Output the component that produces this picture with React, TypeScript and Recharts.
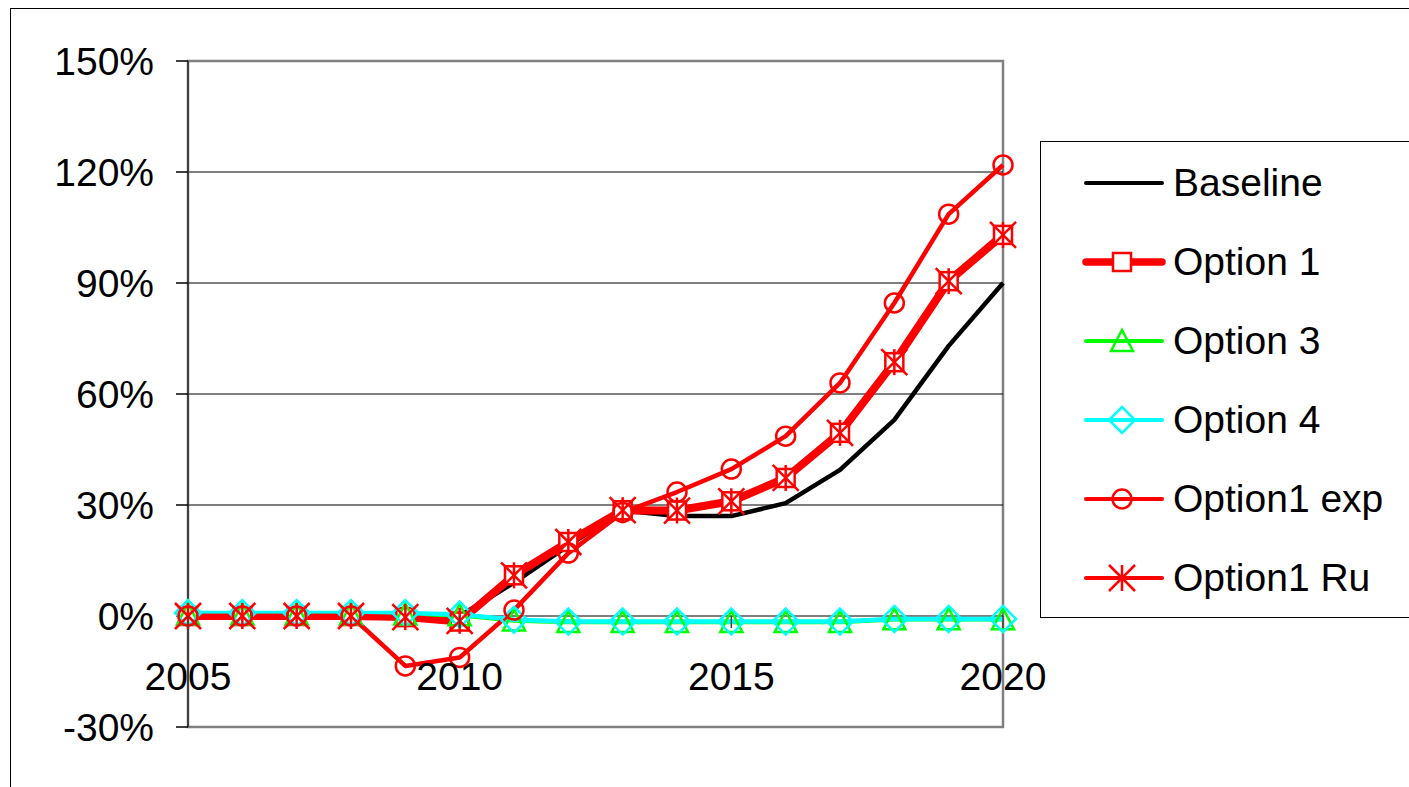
import { LineChart, Line, XAxis, YAxis, CartesianGrid, ReferenceArea, ReferenceLine, Legend } from 'recharts';

const YEARS = [2005, 2006, 2007, 2008, 2009, 2010, 2011, 2012, 2013, 2014, 2015, 2016, 2017, 2018, 2019, 2020];
const BASELINE = [0, 0, 0, 0, 0, 0, 9, 19, 28.5, 27, 27, 30.5, 39.5, 53, 73, 90];
const OPTION_1 = [0, 0, 0, 0, -0.3, -1.5, 11, 20, 28.6, 28.5, 31, 37.3, 49.5, 68.6, 90.5, 103];
const OPTION_3 = [0.4, 0.4, 0.4, 0.4, 0.4, 0.2, -1.2, -1.6, -1.6, -1.6, -1.6, -1.6, -1.6, -0.9, -0.9, -0.9];
const OPTION_4 = [0.8, 0.8, 0.8, 0.8, 0.8, 0.4, -1, -1.5, -1.5, -1.5, -1.5, -1.5, -1.5, -0.8, -0.8, -0.8];
const OPTION_1_EXP = [0, 0, 0, 0, -13.5, -11.2, 1.6, 17, 28, 33.5, 39.7, 48.6, 63, 84.6, 108.6, 121.9];
const OPTION_1_RU = [0, 0, 0, 0, -0.3, -1.3, 11, 20, 28.6, 28.5, 31, 37.3, 49.5, 68.6, 90.5, 103];

const Y_TICKS = [-30, 0, 30, 60, 90, 120, 150];
const X_TICKS = [2005, 2010, 2015, 2020];
const GRID_LINES = [0, 30, 60, 90, 120];

const W = 1409;
const H = 787;
const PLOT_TOP = 61;
const PLOT_BOTTOM = 727;
const PLOT_LEFT = 188;
const PLOT_RIGHT = 1003;
const Y_MIN = -30;
const Y_MAX = 150;
const ZERO_Y = PLOT_TOP + ((PLOT_BOTTOM - PLOT_TOP) * Y_MAX) / (Y_MAX - Y_MIN);

const FONT = '"Liberation Sans", Arial, sans-serif';

type MarkerKind = 'none' | 'square' | 'triangle' | 'diamond' | 'circle' | 'star';

const SERIES: { key: string; name: string; color: string; width: number; marker: MarkerKind }[] = [
  { key: 'baseline', name: 'Baseline', color: '#000000', width: 4.5, marker: 'none' },
  { key: 'opt1', name: 'Option 1', color: '#ff0000', width: 8, marker: 'square' },
  { key: 'opt3', name: 'Option 3', color: '#00ff00', width: 4.5, marker: 'triangle' },
  { key: 'opt4', name: 'Option 4', color: '#00ffff', width: 4.5, marker: 'diamond' },
  { key: 'opt1exp', name: 'Option1 exp', color: '#ff0000', width: 4.5, marker: 'circle' },
  { key: 'opt1ru', name: 'Option1 Ru', color: '#ff0000', width: 4.5, marker: 'star' },
];

const data = YEARS.map((year, i) => ({
  year,
  baseline: BASELINE[i],
  opt1: OPTION_1[i],
  opt3: OPTION_3[i],
  opt4: OPTION_4[i],
  opt1exp: OPTION_1_EXP[i],
  opt1ru: OPTION_1_RU[i],
}));

function Marker({ kind, cx, cy, color }: { kind: MarkerKind; cx: number; cy: number; color: string }) {
  const sw = 2.5;
  if (kind === 'square')
    return <rect x={cx - 9} y={cy - 9} width={18} height={18} fill="#fff" stroke={color} strokeWidth={sw} />;
  if (kind === 'triangle')
    return (
      <polygon
        points={`${cx},${cy - 11} ${cx + 11},${cy + 10} ${cx - 11},${cy + 10}`}
        fill="none"
        stroke={color}
        strokeWidth={sw}
      />
    );
  if (kind === 'diamond')
    return (
      <polygon
        points={`${cx},${cy - 13} ${cx + 13},${cy} ${cx},${cy + 13} ${cx - 13},${cy}`}
        fill="none"
        stroke={color}
        strokeWidth={sw}
      />
    );
  if (kind === 'circle') return <circle cx={cx} cy={cy} r={9.5} fill="none" stroke={color} strokeWidth={sw} />;
  if (kind === 'star')
    return (
      <g stroke={color} strokeWidth={sw}>
        <line x1={cx} y1={cy - 13} x2={cx} y2={cy + 13} />
        <line x1={cx - 13} y1={cy - 13} x2={cx + 13} y2={cy + 13} />
        <line x1={cx + 13} y1={cy - 13} x2={cx - 13} y2={cy + 13} />
      </g>
    );
  return null;
}

const makeDot = (kind: MarkerKind, color: string) => (props: any) => {
  const { cx, cy, index } = props;
  if (kind === 'none' || cx == null || cy == null) return <g key={`d-${index}`} />;
  return (
    <g key={`d-${index}`}>
      <Marker kind={kind} cx={cx} cy={cy} color={color} />
    </g>
  );
};

const XTick = (props: any) => {
  const { x, payload } = props;
  return (
    <g>
      <line x1={x} y1={ZERO_Y} x2={x} y2={ZERO_Y + 12} stroke="#404040" strokeWidth={1.5} />
      <text
        x={x}
        y={ZERO_Y + 60}
        textAnchor="middle"
        dominantBaseline="central"
        fontFamily={FONT}
        fontSize={39}
        fill="#000"
      >
        {payload.value}
      </text>
    </g>
  );
};

const LegendBox = () => (
  <div
    style={{
      border: '1.5px solid #000',
      background: '#fff',
      width: 400,
      height: 477,
      paddingTop: 1,
      boxSizing: 'border-box',
      fontFamily: FONT,
      fontSize: 39,
      color: '#000',
    }}
  >
    {SERIES.map((s) => (
      <div key={s.key} style={{ display: 'flex', alignItems: 'center', height: 79 }}>
        <svg width={80} height={40} style={{ marginLeft: 43, overflow: 'visible' }}>
          <line x1={2} y1={20} x2={78} y2={20} stroke={s.color} strokeWidth={s.width - 0.5} strokeLinecap="round" />
          <Marker kind={s.marker} cx={38} cy={20} color={s.color} />
        </svg>
        <span style={{ marginLeft: 9, whiteSpace: 'nowrap', lineHeight: '40px' }}>{s.name}</span>
      </div>
    ))}
  </div>
);

export default function App() {
  return (
    <div style={{ position: 'absolute', left: 0, top: 0, width: W, height: H, overflow: 'hidden', background: '#fff' }}>
      <div
        style={{
          position: 'absolute',
          left: 10,
          top: 8,
          width: W + 20,
          height: H + 20,
          border: '1.5px solid #000',
        }}
      />
      <div style={{ position: 'absolute', left: 0, top: 0 }}>
        <LineChart
          width={W}
          height={H}
          data={data}
          margin={{ top: PLOT_TOP, right: W - PLOT_RIGHT, bottom: H - PLOT_BOTTOM - 30, left: PLOT_LEFT - 100 }}
        >
          <CartesianGrid vertical={false} horizontal={false} />
          {GRID_LINES.map((g) => (
            <ReferenceLine key={g} y={g} stroke="#000" strokeWidth={1.2} />
          ))}
          <ReferenceArea x1={2005} x2={2020} y1={Y_MIN} y2={Y_MAX} fill="none" stroke="#808080" strokeWidth={2.5} />
          <XAxis
            type="number"
            dataKey="year"
            domain={[2005, 2020]}
            ticks={X_TICKS}
            interval={0}
            height={30}
            axisLine={false}
            tickLine={false}
            tickSize={0}
            tick={<XTick />}
          />
          <YAxis
            type="number"
            domain={[Y_MIN, Y_MAX]}
            ticks={Y_TICKS}
            interval={0}
            width={100}
            tickSize={12}
            tickMargin={22}
            axisLine={{ stroke: '#404040', strokeWidth: 2 }}
            tickLine={{ stroke: '#000', strokeWidth: 1.5 }}
            tick={{ fontFamily: FONT, fontSize: 39, fill: '#000' }}
            tickFormatter={(v: number) => `${v}%`}
          />
          <Legend
            layout="vertical"
            align="center"
            verticalAlign="middle"
            content={() => <LegendBox />}
            wrapperStyle={{ left: 1040, top: 141, width: 400, height: 477 }}
          />
          {SERIES.map((s) => (
            <Line
              key={s.key}
              dataKey={s.key}
              name={s.name}
              type="linear"
              stroke={s.color}
              strokeWidth={s.width}
              dot={makeDot(s.marker, s.color)}
              activeDot={false}
              isAnimationActive={false}
              strokeLinejoin="round"
            />
          ))}
        </LineChart>
      </div>
    </div>
  );
}
